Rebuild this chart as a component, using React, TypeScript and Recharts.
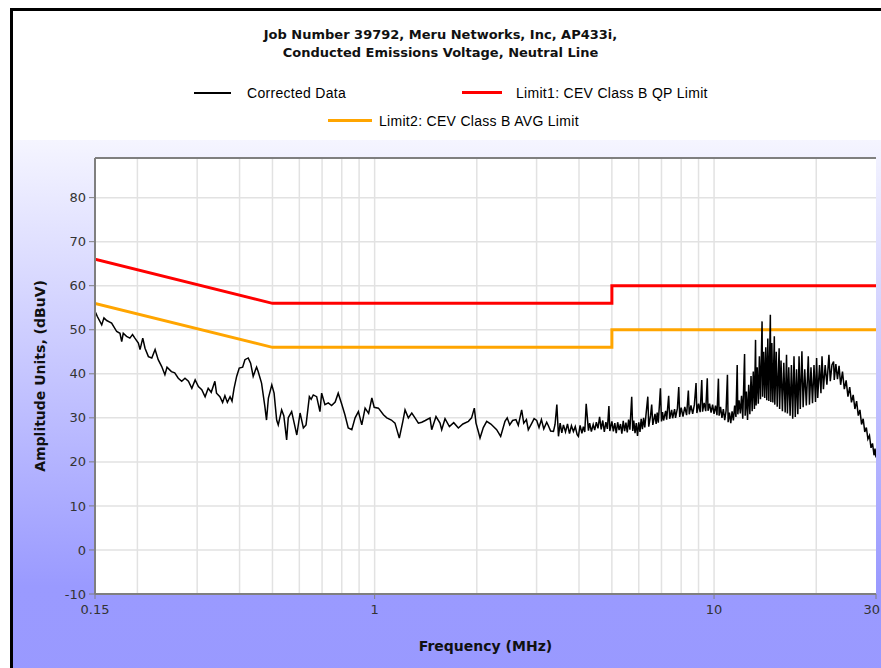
import React from 'react';
import { LineChart, Line, XAxis, YAxis, CartesianGrid, ReferenceLine, Label } from 'recharts';

// Corrected data: [frequency MHz, level dBuV]
const correctedLow: [number, number][] = [
  [0.150, 54.2], [0.1524, 53.0], [0.157, 51.1], [0.1594, 52.7], [0.1624, 52.1], [0.1653, 51.8], [0.1679, 51.5],
  [0.1738, 49.6], [0.1777, 49.2], [0.1798, 47.3], [0.1817, 49.2], [0.1858, 48.5], [0.190, 48.1], [0.1935, 48.9],
  [0.1966, 48.1], [0.2013, 47.0], [0.2036, 45.5], [0.2074, 48.1], [0.2106, 45.8], [0.2155, 43.9], [0.2205, 43.6],
  [0.2255, 45.5], [0.2303, 43.2], [0.2357, 41.7], [0.241, 39.8], [0.2445, 41.5], [0.2519, 40.5], [0.2576, 40.2],
  [0.2639, 39.0], [0.2701, 38.3], [0.2762, 39.0], [0.2827, 38.3], [0.2893, 36.7], [0.2959, 38.6], [0.3025, 37.1],
  [0.3095, 36.4], [0.3166, 34.8], [0.3233, 36.7], [0.33, 35.8], [0.3383, 38.3], [0.3421, 35.6], [0.350, 34.8],
  [0.3565, 33.5], [0.3621, 35.0], [0.3682, 33.5], [0.375, 34.8], [0.38, 33.8], [0.3853, 36.7], [0.3921, 39.4],
  [0.3991, 41.3], [0.4084, 41.5], [0.4148, 43.2], [0.4241, 43.6], [0.4311, 42.4], [0.4387, 39.4], [0.4457, 40.9],
  [0.4489, 41.5], [0.4537, 40.5], [0.4643, 37.9], [0.4748, 32.6], [0.4802, 29.5], [0.4864, 34.5], [0.4977, 37.5],
];

const correctedMid: [number, number][] = [
  [0.5055, 35.6], [0.5144, 29.5], [0.520, 28.4], [0.5321, 31.8], [0.54, 30.5], [0.5505, 25.0], [0.5565, 30.0],
  [0.5695, 31.4], [0.5824, 28.0], [0.5897, 26.1], [0.603, 31.1], [0.6166, 27.7], [0.6279, 28.4], [0.6422, 34.8],
  [0.65, 34.2], [0.6595, 35.2], [0.6747, 34.8], [0.69, 31.4], [0.698, 35.6], [0.7138, 33.0], [0.7302, 33.4],
  [0.7467, 32.8], [0.765, 33.6], [0.781, 35.6], [0.7992, 33.2], [0.8173, 30.7], [0.836, 27.7], [0.8564, 27.3],
  [0.8758, 30.0], [0.8956, 31.4], [0.9165, 28.4], [0.9373, 32.2], [0.96, 31.0], [0.9812, 34.5], [0.9969, 32.4],
  [1.026, 32.2], [1.0615, 30.7], [1.086, 30.0], [1.12, 29.5], [1.148, 28.8], [1.182, 25.4], [1.21, 29.1],
  [1.229, 31.8], [1.257, 30.0], [1.2865, 31.1], [1.315, 30.0], [1.3454, 28.8], [1.3768, 29.0], [1.41, 29.4],
  [1.4558, 30.0], [1.4727, 27.3], [1.5163, 30.3], [1.558, 28.8], [1.576, 27.3], [1.612, 29.8], [1.6605, 28.0],
  [1.71, 28.9], [1.7645, 27.7], [1.82, 28.6], [1.889, 29.2], [1.93, 30.0], [1.9665, 32.2], [1.989, 28.8],
  [2.0206, 26.9], [2.044, 25.4], [2.09, 27.8], [2.139, 29.2], [2.2, 28.6], [2.288, 27.3], [2.351, 25.8],
  [2.421, 29.2], [2.458, 30.0], [2.5, 28.4], [2.55, 29.4], [2.608, 29.6], [2.65, 28.3], [2.711, 31.8],
  [2.75, 28.8], [2.8, 29.6], [2.836, 27.3], [2.9, 28.7], [2.95, 29.8], [3.002, 29.4], [3.05, 27.8], [3.1, 29.6],
  [3.15, 27.5], [3.213, 29.0], [3.25, 28.2], [3.3, 27.0], [3.364, 26.9], [3.4, 28.5], [3.442, 33.0], [3.48, 25.8],
  [3.52, 28.8], [3.56, 26.6], [3.6, 28.4], [3.65, 26.8], [3.7, 28.6], [3.75, 26.4], [3.8, 28.2], [3.851, 26.9],
  [3.9, 28.0], [3.95, 26.2], [3.984, 25.8], [4.03, 28.3], [4.08, 26.5], [4.12, 28.0], [4.16, 26.8], [4.2, 33.2],
  [4.265, 27.1], [4.3, 28.8], [4.35, 26.9], [4.405, 28.5], [4.45, 27.2], [4.5, 29.0], [4.55, 27.6],
];

const correctedHigh: [number, number][] = [
  [4.6, 30.2], [4.65, 27.4], [4.7, 29.4], [4.75, 26.8], [4.8, 29.0], [4.85, 27.5], [4.9, 32.7], [4.93, 27.0],
  [5.0, 29.2], [5.05, 26.9], [5.1, 28.8], [5.15, 26.5], [5.2, 29.0], [5.25, 27.2], [5.3, 28.6], [5.35, 26.4],
  [5.4, 29.3], [5.45, 27.0], [5.5, 28.9], [5.55, 26.7], [5.6, 29.6], [5.65, 27.3], [5.72, 34.8], [5.76, 27.0],
  [5.8, 29.4], [5.85, 26.5], [5.9, 28.8], [5.95, 25.9], [6.0, 29.0], [6.05, 26.8], [6.1, 29.8], [6.15, 27.4],
  [6.2, 30.0], [6.25, 27.8], [6.3, 30.6], [6.38, 34.8], [6.42, 28.0], [6.5, 30.5], [6.55, 33.0], [6.6, 28.4],
  [6.7, 30.9], [6.75, 28.6], [6.8, 31.2], [6.85, 28.9], [6.95, 36.7], [7.0, 29.2], [7.05, 31.3], [7.1, 29.4],
  [7.2, 31.6], [7.25, 29.6], [7.35, 35.0], [7.4, 29.8], [7.5, 31.8], [7.55, 29.9], [7.65, 32.0], [7.7, 30.0],
  [7.8, 32.2], [7.87, 37.0], [7.92, 30.2], [8.0, 32.3], [8.1, 30.3], [8.2, 32.5], [8.3, 30.6], [8.4, 36.2],
  [8.45, 30.8], [8.55, 32.8], [8.65, 30.9], [8.75, 33.0], [8.85, 37.9], [8.9, 31.1], [9.0, 33.2], [9.1, 31.3],
  [9.2, 38.6], [9.25, 31.4], [9.35, 33.4], [9.45, 31.5], [9.55, 39.0], [9.6, 31.6], [9.7, 33.2], [9.8, 31.2],
  [9.9, 33.0], [10.0, 30.9], [10.1, 32.8], [10.2, 30.6], [10.3, 38.9], [10.35, 30.5], [10.45, 32.5], [10.55, 30.0],
  [10.65, 32.0], [10.75, 29.5], [10.85, 31.6], [10.95, 39.8], [11.0, 29.0], [11.1, 31.2], [11.2, 28.8], [11.3, 31.5],
  [11.4, 29.4], [11.5, 32.8], [11.6, 30.2], [11.7, 42.0], [11.75, 30.8], [11.85, 34.0], [11.95, 31.0], [12.05, 35.0],
  [12.15, 29.8], [12.3, 44.5], [12.35, 30.5], [12.45, 36.0], [12.55, 29.5], [12.65, 37.5], [12.75, 30.8], [12.85, 39.5],
  [12.95, 31.5], [13.05, 40.5], [13.15, 32.0], [13.25, 47.7], [13.3, 32.8], [13.4, 41.5], [13.5, 33.2], [13.6, 44.0],
  [13.7, 34.2], [13.85, 51.9], [13.9, 34.8], [14.0, 45.0], [14.1, 34.5], [14.2, 46.0], [14.3, 34.0], [14.4, 48.0],
  [14.5, 33.8], [14.65, 53.4], [14.7, 33.6], [14.8, 47.0], [14.9, 33.5], [15.05, 48.5], [15.1, 33.0], [15.25, 45.0],
  [15.35, 32.5], [15.55, 45.8], [15.6, 32.0], [15.75, 43.0], [15.9, 31.5], [16.05, 42.5], [16.2, 31.2], [16.35, 44.3],
  [16.45, 31.0], [16.6, 41.5], [16.75, 30.5], [16.9, 42.0], [17.05, 29.8], [17.2, 44.0], [17.35, 30.2], [17.5, 41.0],
  [17.65, 30.8], [17.8, 44.0], [17.95, 32.0], [18.15, 45.1], [18.3, 32.4], [18.5, 41.0], [18.7, 32.8], [18.95, 44.0],
  [19.1, 33.0], [19.3, 41.5], [19.5, 33.3], [19.7, 42.0], [19.9, 33.6], [20.05, 43.6], [20.2, 34.5], [20.45, 42.0],
  [20.65, 35.6], [20.8, 44.0], [21.0, 36.5], [21.25, 42.0], [21.5, 37.5], [21.8, 44.3], [22.0, 38.3], [22.25, 42.0],
  [22.5, 42.8], [22.6, 38.6], [22.85, 42.2], [23.1, 38.8], [23.35, 41.8], [23.6, 37.5], [23.9, 40.5], [24.2, 36.5],
  [24.5, 38.5], [24.8, 34.8], [25.1, 37.0], [25.4, 33.5], [25.7, 35.2], [26.0, 32.0], [26.3, 33.8], [26.6, 30.5],
  [26.9, 31.8], [27.2, 28.5], [27.5, 29.8], [27.8, 26.8], [28.1, 27.8], [28.4, 25.2], [28.7, 26.0], [29.0, 23.2],
  [29.3, 24.2], [29.6, 21.5], [29.8, 23.0], [30.0, 21.0],
];

const limitFreq = [0.15, 0.5, 5, 5, 30];
const qpLimitLevel = [66, 56, 56, 60, 60];
const avgLimitLevel = [56, 46, 46, 50, 50];

const xTicks = [0.15, 1, 10, 30];
const yTicks = [-10, 0, 10, 20, 30, 40, 50, 60, 70, 80];
const minorGrid = [0.2, 0.3, 0.4, 0.5, 0.6, 0.7, 0.8, 0.9, 1, 2, 3, 4, 5, 6, 7, 8, 9, 10, 20];
const Y_TOP = 89;

const correctedRows = [...correctedLow, ...correctedMid, ...correctedHigh].map(([f, v]) => ({ f, v }));
const qpRows = limitFreq.map((f, i) => ({ f, v: qpLimitLevel[i] }));
const avgRows = limitFreq.map((f, i) => ({ f, v: avgLimitLevel[i] }));

const tickStyle = { fontFamily: 'DejaVu Sans', fontSize: 13, fill: '#333' };
const legendText: React.CSSProperties = {
  position: 'absolute', fontFamily: 'Liberation Sans', fontSize: 14, lineHeight: '16px', color: '#000',
  letterSpacing: 0.3, whiteSpace: 'nowrap',
};

const XTick = (props: any) => {
  const { x, y, payload } = props;
  const last = payload.value === xTicks[xTicks.length - 1];
  return (
    <text
      x={x}
      y={y}
      dy="0.71em"
      textAnchor={last ? 'end' : 'middle'}
      dx={last ? 4 : 0}
      fontFamily="DejaVu Sans"
      fontSize={13}
      fill="#333"
    >
      {String(payload.value)}
    </text>
  );
};

export default function App() {
  return (
    <div style={{ position: 'absolute', left: 0, top: 0, width: 881, height: 668, overflow: 'hidden', background: '#fff' }}>
      <div
        style={{
          position: 'absolute', left: 10, top: 8, width: 900, height: 700,
          borderLeft: '3px solid #000', borderTop: '3px solid #000',
          background: 'linear-gradient(to bottom, #ffffff 0px, #ffffff 129px, #f5f5ff 129px, #9a9aff 575px, #9999ff 700px)',
        }}
      />
      <div style={{ position: 'absolute', left: 0, top: 0 }}>
        <LineChart width={881} height={668} margin={{ top: 158, right: 5, bottom: 44, left: 35 }}>
          <CartesianGrid vertical={false} stroke="#e2e2e2" strokeWidth={1.5} fill="#ffffff" fillOpacity={1} />
          {minorGrid.map((g) => (
            <ReferenceLine key={g} x={g} stroke="#e2e2e2" strokeWidth={1.5} />
          ))}
          <ReferenceLine y={Y_TOP} stroke="#7f7f7f" strokeWidth={2} />
          <XAxis
            dataKey="f"
            type="number"
            scale="log"
            domain={[0.15, 30]}
            allowDataOverflow
            ticks={xTicks}
            tick={<XTick />}
            tickSize={5}
            tickMargin={6}
            height={30}
            stroke="#7f7f7f"
            axisLine={{ stroke: '#7f7f7f', strokeWidth: 2 }}
            tickLine={{ stroke: '#7f7f7f' }}
            interval={0}
          >
            <Label
              value="Frequency (MHz)"
              position="bottom"
              offset={17}
              style={{ fontFamily: 'DejaVu Sans', fontWeight: 'bold', fontSize: 14, fill: '#111' }}
            />
          </XAxis>
          <YAxis
            type="number"
            domain={[-10, Y_TOP]}
            allowDataOverflow
            ticks={yTicks}
            tick={tickStyle}
            tickSize={6}
            tickMargin={3}
            width={60}
            stroke="#7f7f7f"
            axisLine={{ stroke: '#7f7f7f', strokeWidth: 2 }}
            tickLine={{ stroke: '#7f7f7f' }}
            interval={0}
          >
            <Label
              value="Amplitude Units, (dBuV)"
              angle={-90}
              position="insideLeft"
              offset={5}
              style={{ fontFamily: 'DejaVu Sans', fontWeight: 'bold', fontSize: 14, fill: '#111', textAnchor: 'middle' }}
            />
          </YAxis>
          <Line data={avgRows} dataKey="v" stroke="#ffa500" strokeWidth={3} dot={false} isAnimationActive={false} />
          <Line data={qpRows} dataKey="v" stroke="#ff0000" strokeWidth={3} dot={false} isAnimationActive={false} />
          <Line data={correctedRows} dataKey="v" stroke="#000000" strokeWidth={1.5} dot={false} isAnimationActive={false} />
        </LineChart>
      </div>

      <div
        style={{
          position: 'absolute', left: 0, top: 26, width: 881, textAlign: 'center',
          fontFamily: 'DejaVu Sans', fontWeight: 'bold', fontSize: 13, lineHeight: '18px', color: '#111',
        }}
      >
        <div>Job Number 39792, Meru Networks, Inc, AP433i,</div>
        <div>Conducted Emissions Voltage, Neutral Line</div>
      </div>

      <div style={{ position: 'absolute', left: 194, top: 92, width: 37, height: 2, background: '#000' }} />
      <div style={{ ...legendText, left: 247, top: 85 }}>Corrected Data</div>
      <div style={{ position: 'absolute', left: 462, top: 91, width: 40, height: 3, background: '#ff0000' }} />
      <div style={{ ...legendText, left: 516, top: 85 }}>Limit1: CEV Class B QP Limit</div>
      <div style={{ position: 'absolute', left: 328, top: 119, width: 44, height: 3, background: '#ffa500' }} />
      <div style={{ ...legendText, left: 379, top: 113 }}>Limit2: CEV Class B AVG Limit</div>
    </div>
  );
}
